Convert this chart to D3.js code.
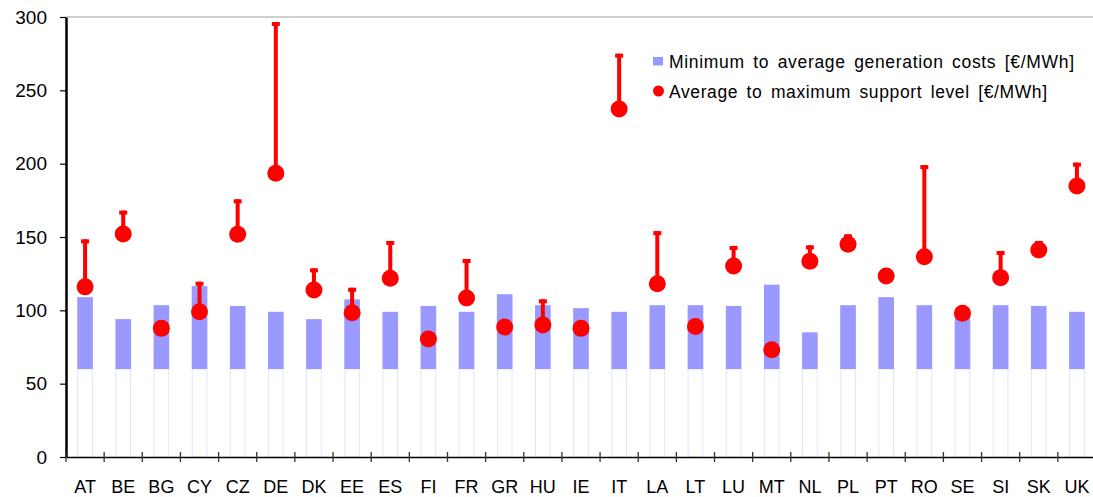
<!DOCTYPE html>
<html>
<head>
<meta charset="utf-8">
<script src="https://cdn.jsdelivr.net/npm/d3@7"></script>
<style>
  body { margin: 0; background: #fff; }
  svg { display: block; font-family: Arial, "Liberation Sans", sans-serif; }
  .y-axis text { font-size: 19px; fill: #000; }
  .x-axis text { font-size: 18px; fill: #000; }
  .legend-text { font-size: 17.5px; fill: #000; word-spacing: 3px; }
</style>
</head>
<body>
<div id="chart"></div>
<script>
var countries = ["AT", "BE", "BG", "CY", "CZ", "DE", "DK", "EE", "ES", "FI", "FR", "GR", "HU", "IE",
  "IT", "LA", "LT", "LU", "MT", "NL", "PL", "PT", "RO", "SE", "SI", "SK", "UK"];

// generation costs: bar from minimum to average
var costMin = [60, 60, 60, 60, 60, 60, 60, 60, 60, 60, 60, 60, 60, 60,
  60, 60, 60, 60, 60, 60, 60, 60, 60, 60, 60, 60, 60];
var costAvg = [109, 94, 103.5, 116.5, 103, 99, 94, 107.5, 99, 103, 99, 111, 103.5, 101.5,
  99, 103.5, 103.5, 103, 117.5, 85, 103.5, 109, 103.5, 98, 103.5, 103, 99];

// support level: dot at average, line up to maximum
var supportAvg = [116, 152, 87.7, 99, 151.8, 193.4, 113.9, 98.4, 121.8, 80.5, 108.4, 88.6, 90, 87.7,
  237.3, 118.2, 88.9, 130.2, 73.2, 133.4, 145, 123.4, 136.6, 98, 122.3, 141.1, 184.8];
var supportMax = [148.4, 168, null, 119.5, 175.7, 296.6, 128.6, 115.4, 147.3, null, 135, null, 107.5, null,
  275, 154, null, 143.9, null, 144.3, 151.8, null, 199, null, 140.5, 147.3, 200.7];

var yTicks = [0, 50, 100, 150, 200, 250, 300];

var width = 1093, height = 497;
var margin = { top: 17, right: -3, bottom: 40, left: 66 };

var data = countries.map(function (c, i) {
  return { c: c, lo: costMin[i], hi: costAvg[i], avg: supportAvg[i], max: supportMax[i] };
});

var svg = d3.select("#chart").append("svg")
  .attr("width", width)
  .attr("height", height);

var x = d3.scaleBand()
  .domain(countries)
  .range([margin.left, width - margin.right])
  .paddingInner(0)
  .paddingOuter(0);

var y = d3.scaleLinear()
  .domain([0, 300])
  .range([height - margin.bottom, margin.top]);

var barW = x.bandwidth() * 0.41;

// top frame line
svg.append("line")
  .attr("x1", margin.left).attr("x2", width)
  .attr("y1", y(300)).attr("y2", y(300))
  .attr("stroke", "#a0a0a0").attr("stroke-width", 1);

// faint part of bars below the minimum
svg.selectAll(".bar-base")
  .data(data)
  .enter()
  .append("rect")
  .attr("class", "bar-base")
  .attr("x", (d) => x(d.c) + (x.bandwidth() - barW) / 2 + 0.5)
  .attr("width", barW - 1)
  .attr("y", (d) => y(d.lo))
  .attr("height", (d) => y(0) - y(d.lo))
  .attr("fill", "#fff")
  .attr("stroke", "#e4e4ff")
  .attr("stroke-width", 1);

// cost bars
svg.selectAll(".bar")
  .data(data)
  .enter()
  .append("rect")
  .attr("class", "bar")
  .attr("x", (d) => x(d.c) + (x.bandwidth() - barW) / 2)
  .attr("width", barW)
  .attr("y", (d) => y(d.hi))
  .attr("height", (d) => y(d.lo) - y(d.hi))
  .attr("fill", "#9999ff");

// axes
var yAxis = d3.axisLeft(y)
  .tickValues(yTicks)
  .tickSize(6)
  .tickSizeOuter(0)
  .tickPadding(13);

svg.append("g")
  .attr("class", "y-axis")
  .attr("transform", "translate(" + margin.left + ",0)")
  .call(yAxis)
  .call((g) => g.select(".domain").attr("stroke-width", 2.5))
  .call((g) => g.selectAll(".tick line").attr("stroke-width", 1.2));

var xAxis = d3.axisBottom(x)
  .tickSize(0)
  .tickSizeOuter(0)
  .tickPadding(23);

svg.append("g")
  .attr("class", "x-axis")
  .attr("transform", "translate(0," + y(0) + ")")
  .call(xAxis)
  .call((g) => g.select(".domain").attr("stroke-width", 1.5));

// category boundary ticks
svg.selectAll(".x-tick")
  .data(d3.range(countries.length))
  .enter()
  .append("line")
  .attr("class", "x-tick")
  .attr("x1", (i) => x.range()[0] + i * x.step())
  .attr("x2", (i) => x.range()[0] + i * x.step())
  .attr("y1", y(0) - 5)
  .attr("y2", y(0) + 5)
  .attr("stroke", "#333")
  .attr("stroke-width", 1.3);

// support level ranges
var withMax = data.filter((d) => d.max !== null);

svg.selectAll(".err-line")
  .data(withMax)
  .enter()
  .append("line")
  .attr("class", "err-line")
  .attr("x1", (d) => x(d.c) + x.bandwidth() / 2)
  .attr("x2", (d) => x(d.c) + x.bandwidth() / 2)
  .attr("y1", (d) => y(d.avg))
  .attr("y2", (d) => y(d.max))
  .attr("stroke", "#ff0000")
  .attr("stroke-width", 4);

svg.selectAll(".err-cap")
  .data(withMax)
  .enter()
  .append("rect")
  .attr("class", "err-cap")
  .attr("x", (d) => x(d.c) + x.bandwidth() / 2 - 4)
  .attr("y", (d) => y(d.max))
  .attr("width", 8)
  .attr("height", 4)
  .attr("fill", "#ff0000");

svg.selectAll(".dot")
  .data(data)
  .enter()
  .append("circle")
  .attr("class", "dot")
  .attr("cx", (d) => x(d.c) + x.bandwidth() / 2)
  .attr("cy", (d) => y(d.avg))
  .attr("r", 8.5)
  .attr("fill", "#ff0000");

// legend
svg.append("rect")
  .attr("x", 653).attr("y", 57)
  .attr("width", 10).attr("height", 8.5)
  .attr("fill", "#9999ff");

svg.append("text")
  .attr("class", "legend-text")
  .attr("x", 669).attr("y", 67.5)
  .attr("textLength", 405)
  .attr("lengthAdjust", "spacing")
  .text("Minimum to average generation costs [€/MWh]");

svg.append("circle")
  .attr("cx", 658.5).attr("cy", 91)
  .attr("r", 5.5)
  .attr("fill", "#ff0000");

svg.append("text")
  .attr("class", "legend-text")
  .attr("x", 669).attr("y", 97.5)
  .attr("textLength", 378)
  .attr("lengthAdjust", "spacing")
  .text("Average to maximum support level [€/MWh]");
</script>
</body>
</html>
